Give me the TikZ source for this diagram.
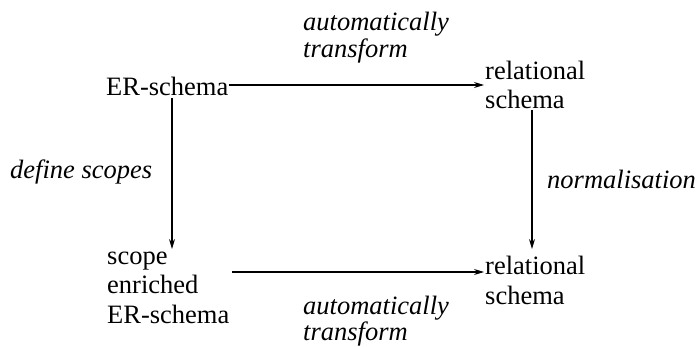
\documentclass[tikz,border=0pt]{standalone}
\usepackage{fontspec}
\setmainfont{Liberation Serif}
\usetikzlibrary{arrows.meta}
\begin{document}
\begin{tikzpicture}[x=1pt,y=-1pt,
  txt/.style={anchor=base west,inner sep=0pt,font=\fontsize{26.5}{30}\selectfont},
  lbl/.style={txt,font=\fontsize{26.5}{30}\selectfont\itshape},
  conn/.style={line width=1.1pt,-{Stealth[length=10pt,width=6pt]}}]
\useasboundingbox (0,0) rectangle (699,347);
% entities
\node[txt] (er) at (106,96) {ER-schema};
\node[txt] (rel1a) at (485,80) {relational};
\node[txt] (rel1b) at (485,109) {schema};
\node[txt] (sc1) at (107,265) {scope};
\node[txt] (sc2) at (107,294) {enriched};
\node[txt] (sc3) at (107,324) {ER-schema};
\node[txt] (rel2a) at (485,275) {relational};
\node[txt] (rel2b) at (485,305) {schema};
% transformation labels
\node[lbl] (t1a) at (303,31) {automatically};
\node[lbl] (t1b) at (303,58) {transform};
\node[lbl] (t2a) at (303,315) {automatically};
\node[lbl] (t2b) at (303,341) {transform};
\node[lbl] (ds) at (10,179) {define scopes};
\node[lbl] (nm) at (547,189) {normalisation};
% connector end points
\coordinate (erE) at (229,85);
\coordinate (erS) at (172,98);
\coordinate (rel1W) at (484,85);
\coordinate (rel1S) at (532,110);
\coordinate (sc1N) at (172,249);
\coordinate (sc2E) at (232,272);
\coordinate (rel2W) at (484,272);
\coordinate (rel2N) at (532,249);
% connectors
\draw[conn] (erE) -- (rel1W);
\draw[conn] (erS) -- (sc1N);
\draw[conn] (rel1S) -- (rel2N);
\draw[conn] (sc2E) -- (rel2W);
\end{tikzpicture}
\end{document}
